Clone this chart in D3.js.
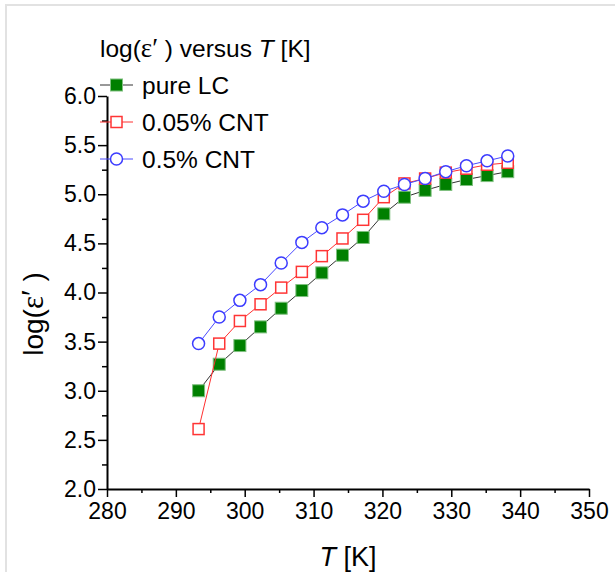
<!DOCTYPE html>
<html>
<head>
<meta charset="utf-8">
<script src="https://cdn.jsdelivr.net/npm/d3@7"></script>
<style>
  body { margin: 0; background: #fff; }
  svg { display: block; }
  text { font-family: "Liberation Sans", Arial, sans-serif; fill: #000; }
</style>
</head>
<body>
<div id="chart"></div>
<script>
// temperatures (K)
const temps = [293.3, 296.3, 299.3, 302.3, 305.3, 308.3, 311.2, 314.2, 317.2, 320.2, 323.2, 326.2, 329.2, 332.2, 335.2, 338.2];

// log(eps') per sample
const pureLC  = [3.00, 3.27, 3.46, 3.65, 3.84, 4.02, 4.20, 4.38, 4.56, 4.80, 4.97, 5.04, 5.10, 5.15, 5.19, 5.23];
const cnt005  = [2.61, 3.48, 3.71, 3.88, 4.05, 4.21, 4.37, 4.55, 4.74, 4.97, 5.11, 5.16, 5.22, 5.26, 5.30, 5.32];
const cnt05   = [3.48, 3.75, 3.92, 4.08, 4.30, 4.51, 4.66, 4.79, 4.93, 5.03, 5.10, 5.16, 5.23, 5.29, 5.34, 5.39];

const seriesNames = ['pure LC', '0.05% CNT', '0.5% CNT'];

const xTicks = [280, 290, 300, 310, 320, 330, 340, 350];
const yTicks = [2.0, 2.5, 3.0, 3.5, 4.0, 4.5, 5.0, 5.5, 6.0];

const width = 615, height = 572;

const svg = d3.select('#chart').append('svg')
  .attr('width', width)
  .attr('height', height);

// light frame round the figure
svg.append('path')
  .attr('d', `M6,${height} V5 H${width}`)
  .attr('fill', 'none')
  .attr('stroke', '#e2e2e2')
  .attr('stroke-width', 2);

const x = d3.scaleLinear().domain([280, 350]).range([107, 589]);
const y = d3.scaleLinear().domain([2, 6]).range([489, 96]);

// minor ticks first
svg.append('g')
  .attr('transform', `translate(0,${y(2)})`)
  .call(d3.axisBottom(x).tickValues(d3.range(285, 350, 10)).tickSize(4).tickFormat(''))
  .call(g => g.select('.domain').remove())
  .selectAll('line').attr('stroke-width', 1.5);

svg.append('g')
  .attr('transform', `translate(${x(280)},0)`)
  .call(d3.axisLeft(y).tickValues(d3.range(2.25, 6, 0.5)).tickSize(5).tickFormat(''))
  .call(g => g.select('.domain').remove())
  .selectAll('line').attr('stroke-width', 1.5);

// major axes
const xAxis = svg.append('g')
  .attr('transform', `translate(0,${y(2)})`)
  .call(d3.axisBottom(x).tickValues(xTicks).tickSize(8).tickSizeOuter(0).tickPadding(6).tickFormat(d3.format('d')));

const yAxis = svg.append('g')
  .attr('transform', `translate(${x(280)},0)`)
  .call(d3.axisLeft(y).tickValues(yTicks).tickSize(9).tickSizeOuter(0).tickPadding(2).tickFormat(d3.format('.1f')));

[xAxis, yAxis].forEach(ax => {
  ax.select('.domain').attr('stroke-width', 2);
  ax.selectAll('line').attr('stroke-width', 1.5);
  ax.selectAll('text')
    .attr('font-family', '"Liberation Sans", Arial, sans-serif')
    .attr('font-size', 23)
    .attr('fill', '#000');
});

// axis titles
const xt = svg.append('text')
  .attr('x', 348).attr('y', 566)
  .attr('text-anchor', 'middle')
  .attr('font-size', 27);
xt.append('tspan').attr('font-style', 'italic').text('T');
xt.append('tspan').text(' [K]');

const yt = svg.append('text')
  .attr('transform', 'translate(43,314) rotate(-90)')
  .attr('text-anchor', 'middle')
  .attr('font-size', 28);
yt.append('tspan').text('log(');
yt.append('tspan').attr('font-family', '"Liberation Serif", serif').attr('font-size', 31).text('ε′ ');
yt.append('tspan').text(')');

// series
const series = [
  {name: seriesNames[0], values: pureLC, line: '#333', kind: 'fsquare'},
  {name: seriesNames[1], values: cnt005, line: '#ff3030', kind: 'osquare'},
  {name: seriesNames[2], values: cnt05, line: '#4a4aff', kind: 'circle'}
];

function marker(g, kind) {
  if (kind === 'fsquare') {
    g.append('rect').attr('x', -6).attr('y', -6).attr('width', 12).attr('height', 12)
      .attr('fill', '#008000').attr('stroke', '#7fc07f').attr('stroke-width', 1);
  } else if (kind === 'osquare') {
    g.append('rect').attr('x', -5.5).attr('y', -5.5).attr('width', 11).attr('height', 11)
      .attr('fill', '#fff').attr('stroke', '#ff3535').attr('stroke-width', 1.5);
  } else {
    g.append('circle').attr('r', 6)
      .attr('fill', '#fff').attr('stroke', '#3c3cff').attr('stroke-width', 1.5);
  }
}

const line = d3.line().x(d => x(d[0])).y(d => y(d[1]));

series.forEach(s => {
  const pts = temps.map((t, i) => [t, s.values[i]]);
  svg.append('path')
    .datum(pts)
    .attr('d', line)
    .attr('fill', 'none')
    .attr('stroke', s.line)
    .attr('stroke-width', 1);
  svg.append('g').selectAll('g')
    .data(pts)
    .enter().append('g')
    .attr('transform', d => `translate(${x(d[0])},${y(d[1])})`)
    .each(function() { marker(d3.select(this), s.kind); });
});

// legend
const title = svg.append('text').attr('x', 100).attr('y', 57).attr('font-size', 24.5);
title.append('tspan').text('log(');
title.append('tspan').attr('font-family', '"Liberation Serif", serif').attr('font-size', 27).text('ε′ ');
title.append('tspan').text(') versus ');
title.append('tspan').attr('font-style', 'italic').text('T');
title.append('tspan').text(' [K]');

const legY = [85, 122, 159];
series.forEach((s, i) => {
  const g = svg.append('g').attr('transform', `translate(0,${legY[i]})`);
  g.append('line').attr('x1', 100).attr('x2', 133).attr('y1', 0).attr('y2', 0)
    .attr('stroke', s.line).attr('stroke-width', 1);
  marker(g.append('g').attr('transform', 'translate(116.5,0)'), s.kind);
  g.append('text').attr('x', 142).attr('y', 8.5).attr('font-size', 24.5).text(s.name);
});
</script>
</body>
</html>
